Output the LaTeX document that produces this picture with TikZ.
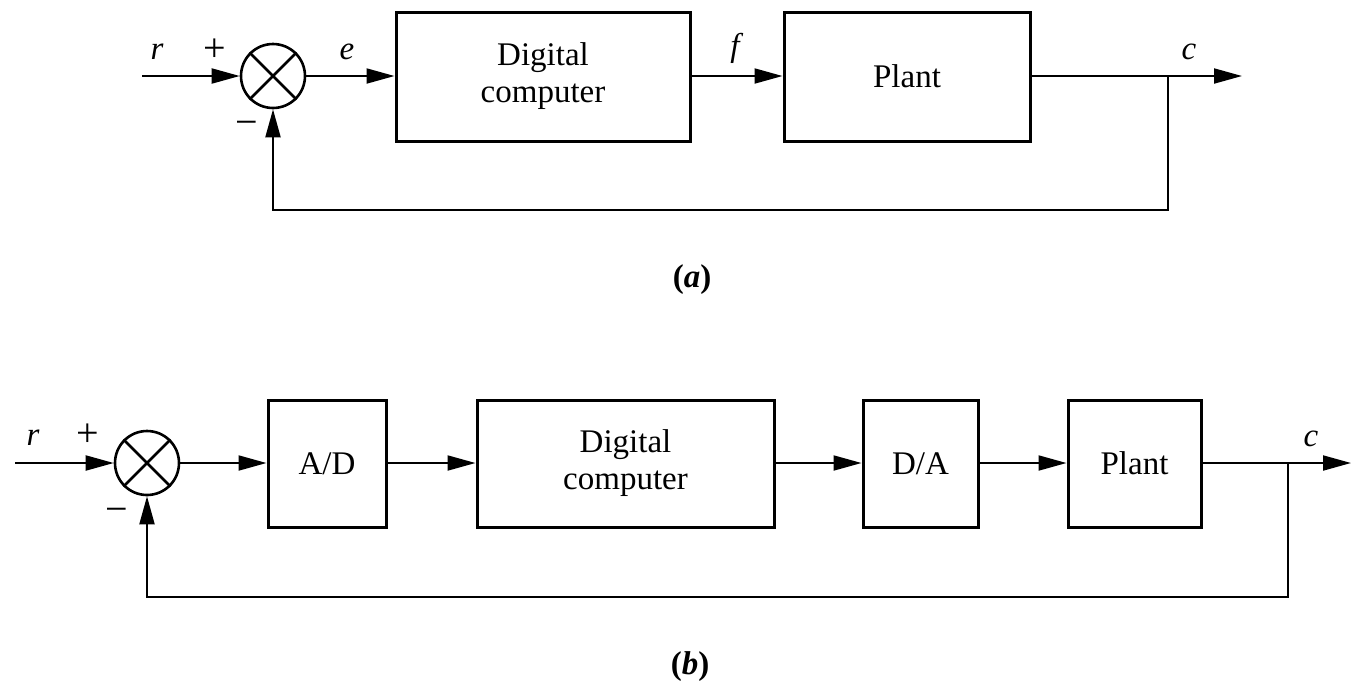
\documentclass[tikz,border=0pt]{standalone}
\usepackage{fontspec}
\setmainfont{Liberation Serif}
\usetikzlibrary{arrows.meta}
\newcommand{\blkfont}{\fontsize{16.5}{18.5}\selectfont}
\newcommand{\lblfont}{\fontsize{16.5}{18.5}\selectfont\itshape}
\newcommand{\sgnfont}{\fontsize{20}{22}\selectfont}
\begin{document}
\begin{tikzpicture}[x=0.5pt,y=-0.5pt,
  blk/.style={draw, line width=1.5pt, inner sep=0pt, align=center, font=\blkfont},
  sumj/.style={draw, circle, line width=1.3pt, minimum size=32pt, inner sep=0pt},
  sig/.style={line width=1pt, -{Triangle[length=14pt,width=7.5pt]}},
  wire/.style={line width=1pt},
  lbl/.style={inner sep=0pt, font=\lblfont},
  sgn/.style={inner sep=0pt, font=\sgnfont},
  figcap/.style={inner sep=0pt, font=\blkfont\bfseries}]
\useasboundingbox (0,0) rectangle (1351,682);

% ---------------- (a) ----------------
\coordinate (ina) at (142,76);
\node[sumj] (sa) at (273,76) {};
\draw[line width=1.3pt] (sa.north west) -- (sa.south east) (sa.north east) -- (sa.south west);
\node[blk, minimum width=147pt, minimum height=64.5pt] (dca) at (543,76.5) {Digital\\computer};
\node[blk, minimum width=123pt, minimum height=64.5pt] (pa) at (907,76.5) {Plant};
\coordinate (ba) at (1168,76);
\coordinate (outa) at (1242,76);
\coordinate (fa) at (1168,210);

\draw[sig] (ina) -- (sa.west);
\draw[sig] (sa.east) -- (sa.east -| dca.west);
\draw[sig] (dca.east |- sa) -- (pa.west |- sa);
\draw[wire] (pa.east |- sa) -- (ba);
\draw[sig] (ba) -- (outa);
\draw[sig] (ba) -- (fa) -| (sa.south);

\node[lbl] (ra) at (157,52) {r};
\node[sgn] (pla) at (215,50) {+};
\node[sgn] (mia) at (247,128) {−};
\node[lbl] (ea) at (347,52) {e};
\node[lbl] (fla) at (735,48) {f};
\node[lbl] (ca) at (1189,52) {c};
\node[figcap] (capa) at (692,280) {(\textit{a})};

% ---------------- (b) ----------------
\coordinate (inb) at (15,463);
\node[sumj] (sb) at (147,463) {};
\draw[line width=1.3pt] (sb.north west) -- (sb.south east) (sb.north east) -- (sb.south west);
\node[blk, minimum width=59pt, minimum height=63.5pt] (ad) at (327,463.5) {A/D};
\node[blk, minimum width=148.5pt, minimum height=63.5pt] (dcb) at (625.5,463.5) {Digital\\computer};
\node[blk, minimum width=57.5pt, minimum height=63.5pt] (da) at (920.5,463.5) {D/A};
\node[blk, minimum width=66.5pt, minimum height=63.5pt] (pb) at (1134.5,463.5) {Plant};
\coordinate (bb) at (1288,463);
\coordinate (outb) at (1351,463);
\coordinate (fb) at (1288,597);

\draw[sig] (inb) -- (sb.west);
\draw[sig] (sb.east) -- (sb.east -| ad.west);
\draw[sig] (ad.east |- sb) -- (dcb.west |- sb);
\draw[sig] (dcb.east |- sb) -- (da.west |- sb);
\draw[sig] (da.east |- sb) -- (pb.west |- sb);
\draw[wire] (pb.east |- sb) -- (bb);
\draw[sig] (bb) -- (outb);
\draw[sig] (bb) -- (fb) -| (sb.south);

\node[lbl] (rb) at (33,438) {r};
\node[sgn] (plb) at (88,435) {+};
\node[sgn] (mib) at (117,515) {−};
\node[lbl] (cb) at (1311,439) {c};
\node[figcap] (capb) at (690,667) {(\textit{b})};
\end{tikzpicture}
\end{document}
